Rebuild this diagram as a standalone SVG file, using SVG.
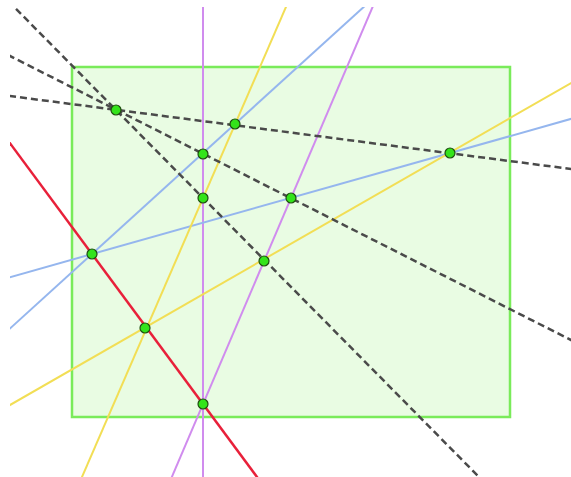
<svg xmlns="http://www.w3.org/2000/svg" width="571" height="477" viewBox="0 0 571 477">
<style>
.line{fill:none;stroke-width:2}
.blue{stroke:#95b6ee}
.yellow{stroke:#f2de55}
.purple{stroke:#d08cee}
.red{stroke:#e8203a;stroke-width:2.5}
.dash{stroke:#4a4a4a;stroke-width:2.5;stroke-dasharray:7 4}
.pt{fill:#33e31a;stroke:#1f4d10;stroke-width:1.2}
</style>
<defs>
<clipPath id="plot"><rect x="10" y="7" width="561" height="470"/></clipPath>
</defs>
<rect width="571" height="477" fill="#ffffff"/>
<g id="region">
<rect x="72" y="67" width="438" height="350" fill="#e9fce3" stroke="#7aeb5a" stroke-width="2.5"/>
</g>
<g id="connectors" clip-path="url(#plot)">
<line class="line purple" x1="203" y1="-100" x2="203" y2="600"/>
<line class="line purple" x1="418.3" y1="-100" x2="119.3" y2="600"/>
<line class="line red" x1="-170" y1="-100" x2="348" y2="600"/>
<line class="line blue" x1="-100" y1="428.5" x2="600" y2="-207.8"/>
<line class="line blue" x1="-100" y1="308.2" x2="700" y2="82.5"/>
<line class="line yellow" x1="332.4" y1="-100" x2="28.6" y2="600"/>
<line class="line yellow" x1="-100" y1="468.1" x2="700" y2="9"/>
<line class="line dash" x1="-100" y1="81.7" x2="700" y2="185.8"/>
<line class="line dash" x1="-100" y1="0.3" x2="700" y2="405.3"/>
<line class="line dash" x1="-100" y1="-108.4" x2="700" y2="700.4"/>
</g>
<g id="p1"><circle class="pt" cx="116" cy="110" r="5"/></g>
<g id="p2"><circle class="pt" cx="235" cy="124" r="5"/></g>
<g id="p3"><circle class="pt" cx="203" cy="154" r="5"/></g>
<g id="p4"><circle class="pt" cx="203" cy="198" r="5"/></g>
<g id="p5"><circle class="pt" cx="291" cy="198" r="5"/></g>
<g id="p6"><circle class="pt" cx="450" cy="153" r="5"/></g>
<g id="p7"><circle class="pt" cx="92" cy="254" r="5"/></g>
<g id="p8"><circle class="pt" cx="264" cy="261" r="5"/></g>
<g id="p9"><circle class="pt" cx="145" cy="328" r="5"/></g>
<g id="p10"><circle class="pt" cx="203" cy="404" r="5"/></g>
</svg>
